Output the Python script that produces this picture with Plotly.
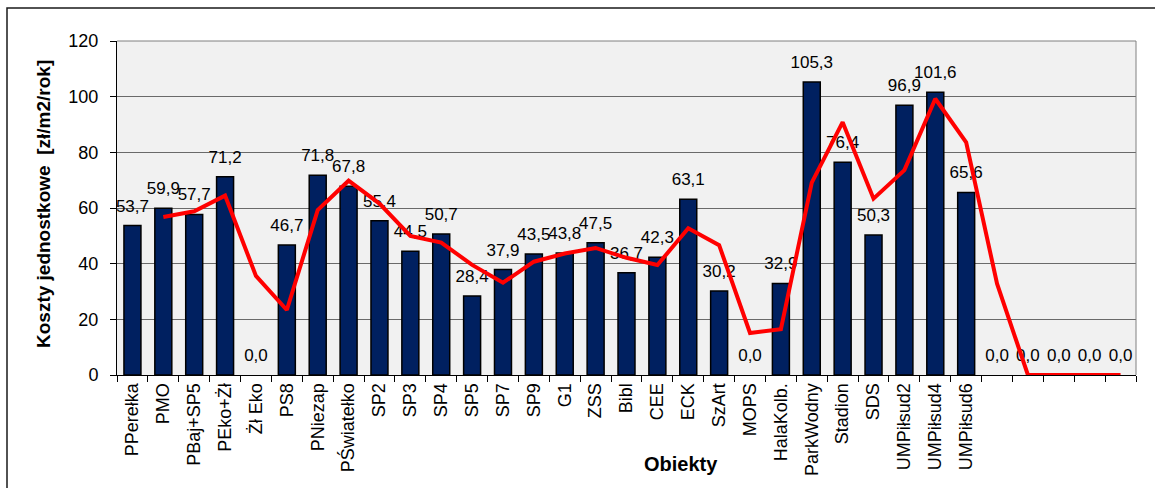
import plotly.graph_objects as go

# Unit costs per facility [zł/m2/rok]
categories = [
    "PPerełka", "PMO", "PBaj+SP5", "PEko+Żł", "Żł Eko", "PS8", "PNiezap",
    "PŚwiatełko", "SP2", "SP3", "SP4", "SP5", "SP7", "SP9", "G1", "ZSS",
    "Bibl", "CEE", "ECK", "SzArt", "MOPS", "HalaKolb.", "ParkWodny",
    "Stadion", "SDS", "UMPiłsud2", "UMPiłsud4", "UMPiłsud6",
    "", "", "", "", "",
]
values = [
    53.7, 59.9, 57.7, 71.2, 0.0, 46.7, 71.8, 67.8, 55.4, 44.5, 50.7,
    28.4, 37.9, 43.5, 43.8, 47.5, 36.7, 42.3, 63.1, 30.2, 0.0, 32.9,
    105.3, 76.4, 50.3, 96.9, 101.6, 65.6, 0.0, 0.0, 0.0, 0.0, 0.0,
]
y_ticks = [0, 20, 40, 60, 80, 100, 120]

positions = list(range(len(categories)))

# Two-period moving average trend line
trend_x = positions[1:]
trend_y = [(values[i - 1] + values[i]) / 2 for i in range(1, len(values))]

FONT = "Liberation Sans, Arial, sans-serif"

fig = go.Figure()
fig.add_trace(go.Bar(
    x=positions,
    y=values,
    width=0.55,
    marker=dict(
        color="#002060",
        line=dict(color="#000000",
                  width=[1.5 if v > 0 else 0 for v in values]),
    ),
    showlegend=False,
    hoverinfo="skip",
))
# Value labels above each bar
fig.add_trace(go.Scatter(
    x=positions,
    y=values,
    mode="markers+text",
    marker=dict(size=14, color="rgba(0,0,0,0)"),
    texttemplate="%{y:.1f}",
    textposition="top center",
    textfont=dict(family=FONT, size=17, color="#000000"),
    cliponaxis=False,
    showlegend=False,
))
fig.add_trace(go.Scatter(
    x=trend_x,
    y=trend_y,
    mode="lines",
    line=dict(color="#FF0000", width=4),
    showlegend=False,
))

L, R, T, B = 117, 19, 41, 113
W, H = 1155, 488
pw = W - L - R
ph = H - T - B

fig.update_layout(
    width=W,
    height=H,
    margin=dict(l=L, r=R, t=T, b=B),
    paper_bgcolor="#FFFFFF",
    plot_bgcolor="#F1F1F1",
    separators=", ",
    font=dict(family=FONT, size=18, color="#000000"),
    bargap=0.45,
)

fig.update_xaxes(
    range=[-0.5, len(categories) - 0.5],
    tickvals=positions,
    ticktext=categories,
    tickangle=-90,
    ticks="",
    showgrid=False,
    zeroline=False,
    showline=True,
    linecolor="#000000",
    linewidth=1,
    tickfont=dict(family=FONT, size=18),
    minor=dict(ticks="outside", tick0=-0.5, dtick=1, ticklen=6,
               tickcolor="#000000", showgrid=False),
)
fig.update_yaxes(
    range=[0, 120],
    tickvals=y_ticks,
    ticks="outside",
    ticklen=6,
    tickcolor="#000000",
    ticklabelstandoff=8,
    showgrid=True,
    gridcolor="#6a6a6a",
    gridwidth=1,
    zeroline=False,
    showline=True,
    linecolor="#000000",
    linewidth=1,
    tickfont=dict(family=FONT, size=18),
)

# Plot-area frame (top and right edges)
fig.add_shape(type="line", xref="paper", yref="paper", x0=0, x1=1, y0=1, y1=1,
              line=dict(color="#808080", width=1))
fig.add_shape(type="line", xref="paper", yref="paper", x0=1, x1=1, y0=0, y1=1,
              line=dict(color="#808080", width=1))

# Outer chart border
fig.add_shape(type="rect", xref="paper", yref="paper",
              x0=(7 - L) / pw, x1=1.2, y0=-0.6, y1=1 + (T - 8) / ph,
              line=dict(color="#1a1a1a", width=1.5), layer="below")

# Axis titles
fig.add_annotation(text="<b>Obiekty</b>", xref="paper", yref="paper",
                   x=(681 - L) / pw, y=(H - B - 464) / ph,
                   showarrow=False, font=dict(family=FONT, size=20),
                   xanchor="center", yanchor="middle")
fig.add_annotation(text="<b>Koszty jednostkowe  [zł/m2/rok]</b>",
                   xref="paper", yref="paper",
                   x=(43 - L) / pw, y=(H - B - 204) / ph,
                   textangle=-90, showarrow=False,
                   font=dict(family=FONT, size=19),
                   xanchor="center", yanchor="middle")

fig.write_html("out.html")
